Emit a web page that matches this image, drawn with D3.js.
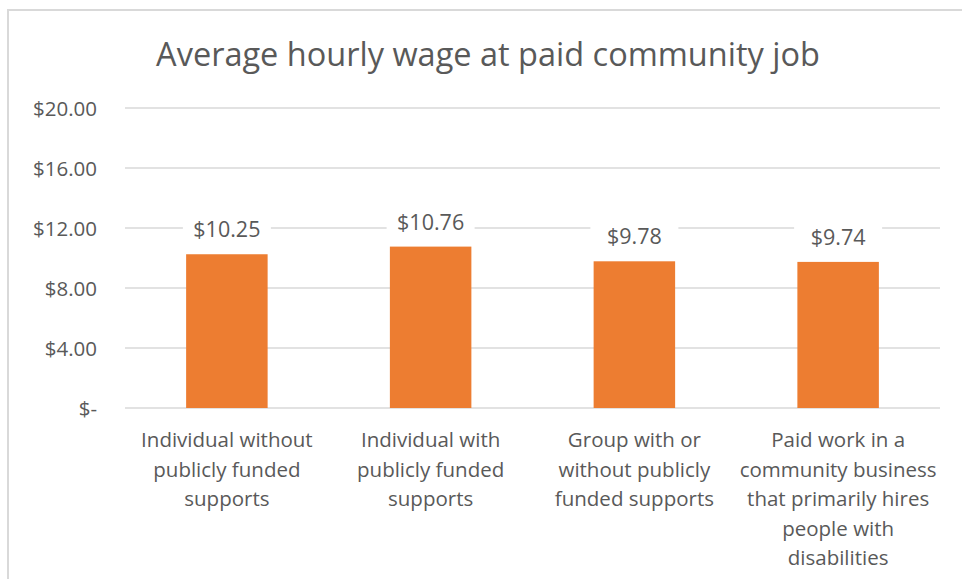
<!DOCTYPE html>
<html>
<head>
<meta charset="utf-8">
<script src="https://cdn.jsdelivr.net/npm/d3@7"></script>
<style>
  html, body { margin: 0; padding: 0; background: #fff; }
  svg { display: block; }
  svg text { font-family: "Open Sans", "Liberation Sans", sans-serif; }
</style>
</head>
<body>
<div id="chart"></div>
<script>
const TITLE = 'Average hourly wage at paid community job'

const categories = [
  ['Individual without', 'publicly funded', 'supports'],
  ['Individual with', 'publicly funded', 'supports'],
  ['Group with or', 'without publicly', 'funded supports'],
  ['Paid work in a', 'community business', 'that primarily hires', 'people with', 'disabilities']
]
const wages = [10.25, 10.76, 9.78, 9.74]
const yTicks = [0, 4, 8, 12, 16, 20]

const textColor = '#595959'
const gridColor = '#d9d9d9'
const barColor = '#ed7d31'

const width = 962
const height = 579
const margin = { top: 108, right: 22, bottom: 171, left: 125 }
const innerW = width - margin.left - margin.right
const innerH = height - margin.top - margin.bottom

const svg = d3.select('#chart').append('svg')
  .attr('width', width)
  .attr('height', height)

// chart frame (cropped at right and bottom)
svg.append('rect')
  .attr('x', 8).attr('y', 10)
  .attr('width', 1000).attr('height', 700)
  .attr('fill', '#fff')
  .attr('stroke', gridColor)
  .attr('stroke-width', 2)

svg.append('text')
  .attr('x', 488).attr('y', 66)
  .attr('text-anchor', 'middle')
  .attr('fill', textColor)
  .style('font-size', '32.5px')
  .text(TITLE)

const g = svg.append('g')
  .attr('transform', `translate(${margin.left}, ${margin.top})`)

const x = d3.scaleBand()
  .domain(d3.range(categories.length))
  .range([0, innerW])
  .paddingInner(0.6)
  .paddingOuter(0.3)

const y = d3.scaleLinear()
  .domain([0, 20])
  .range([innerH, 0])

const fmt = (d) => d === 0 ? '$-' : '$' + d3.format('.2f')(d)

// gridlines
g.selectAll('.grid')
  .data(yTicks)
  .join('line')
  .attr('class', 'grid')
  .attr('x1', 0).attr('x2', innerW)
  .attr('y1', (d) => y(d)).attr('y2', (d) => y(d))
  .attr('stroke', gridColor)
  .attr('stroke-width', 1.5)

// y axis labels
const yAxis = d3.axisLeft(y).tickValues(yTicks).tickFormat(fmt).tickSize(0).tickPadding(28)
const yAxisG = g.append('g').call(yAxis)
yAxisG.attr('font-family', null)
yAxisG.select('.domain').remove()
yAxisG.selectAll('text')
  .attr('fill', textColor)
  .attr('dy', '0.35em')
  .style('font-size', '20.5px')

// bars
g.selectAll('.bar')
  .data(wages)
  .join('rect')
  .attr('class', 'bar')
  .attr('x', (d, i) => x(i))
  .attr('y', (d) => y(d))
  .attr('width', x.bandwidth())
  .attr('height', (d) => y(0) - y(d))
  .attr('fill', barColor)

// data labels with white knockout behind
const labels = g.selectAll('.val')
  .data(wages)
  .join('g')
  .attr('class', 'val')
  .attr('transform', (d, i) => `translate(${x(i) + x.bandwidth() / 2}, ${y(d) - 17})`)

labels.append('rect')
  .attr('x', -44).attr('y', -22)
  .attr('width', 88).attr('height', 28)
  .attr('fill', '#fff')

labels.append('text')
  .attr('text-anchor', 'middle')
  .attr('fill', textColor)
  .style('font-size', '21.5px')
  .text((d) => '$' + d3.format('.2f')(d))

// category labels
const cats = g.selectAll('.cat')
  .data(categories)
  .join('text')
  .attr('class', 'cat')
  .attr('text-anchor', 'middle')
  .attr('fill', textColor)
  .style('font-size', '20.5px')
  .attr('transform', (d, i) => `translate(${x(i) + x.bandwidth() / 2}, ${innerH + 39})`)

cats.selectAll('tspan')
  .data((d) => d)
  .join('tspan')
  .attr('x', 0)
  .attr('y', (d, i) => i * 29.5)
  .text((d) => d)
</script>
</body>
</html>
